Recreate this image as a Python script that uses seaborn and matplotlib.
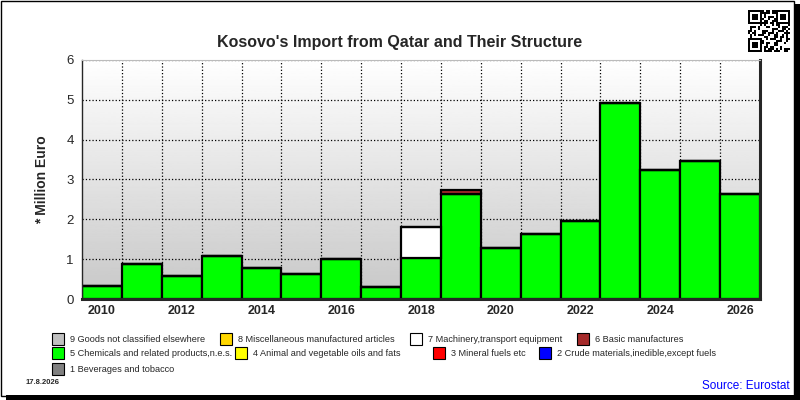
import matplotlib
matplotlib.use('Agg')

import numpy as np
import matplotlib.pyplot as plt
from matplotlib.patches import Rectangle
import seaborn as sns

# data (million euro)
years = list(range(2010, 2027))
chemicals = [0.33, 0.88, 0.58, 1.08, 0.78, 0.63, 1.0, 0.30, 1.03, 2.64,
             1.28, 1.63, 1.96, 4.92, 3.24, 3.47, 2.64]
machinery = [0, 0, 0, 0, 0, 0, 0, 0, 0.78, 0, 0, 0, 0, 0, 0, 0, 0]
basic = [0, 0, 0, 0, 0, 0, 0, 0, 0, 0.10, 0, 0, 0, 0, 0, 0, 0]

legend_labels = ["9 Goods not classified elsewhere", "8 Miscellaneous manufactured articles",
                 "7 Machinery,transport equipment", "6 Basic manufactures",
                 "5 Chemicals and related products,n.e.s.", "4 Animal and vegetable oils and fats",
                 "3 Mineral fuels etc", "2 Crude materials,inedible,except fuels",
                 "1 Beverages and tobacco"]
legend_colors = ["#c0c0c0", "#ffd700", "#ffffff", "#a52a2a",
                 "#00ff00", "#ffff00", "#ff0000", "#0000ff", "#808080"]

sns.set_style("white")
plt.rcParams['font.family'] = ['Liberation Sans', 'DejaVu Sans']

fig = plt.figure(figsize=(8, 4), dpi=100)
ax = fig.add_axes([0.1025, 0.2525, 0.8475, 0.5975])

# gradient background
grad = np.linspace(1.0, 0.78, 256).reshape(-1, 1)
ax.imshow(grad, cmap='gray', vmin=0, vmax=1, extent=[-0.5, 16.5, 0, 6],
          aspect='auto', zorder=0)

ylabels = [str(y) for y in years]
bottom2 = np.array(chemicals)
bottom3 = bottom2 + np.array(machinery)
sns.barplot(x=ylabels, y=chemicals, color="#00ff00", width=1, edgecolor='black',
            linewidth=1.6, saturation=1, ax=ax, zorder=3)
sns.barplot(x=ylabels, y=machinery, bottom=bottom2, color="#ffffff", width=1,
            edgecolor='black', linewidth=1.6, saturation=1, ax=ax, zorder=3)
sns.barplot(x=ylabels, y=basic, bottom=bottom3, color="#a52a2a", width=1,
            edgecolor='black', linewidth=1.6, saturation=1, ax=ax, zorder=3)

ax.set_xlim(-0.5, 16.5)
ax.set_ylim(0, 6)
ax.set_xticks(range(0, 17, 2))
ax.set_xticklabels(ylabels[::2], fontweight='bold', fontsize=9)
ax.set_xticks(np.arange(0.5, 16, 1), minor=True)
ax.set_yticks(range(0, 7))
ax.set_yticklabels([str(i) for i in range(7)], fontsize=9.5)
ax.grid(True, which='minor', axis='x', color='black', linestyle=':', linewidth=0.9, zorder=1)
ax.grid(True, which='major', axis='y', color='black', linestyle=':', linewidth=0.9, zorder=1)
ax.set_axisbelow(True)
ax.tick_params(axis='x', which='major', length=0, pad=4)
ax.tick_params(axis='x', which='minor', length=4, color='black', direction='out')
ax.tick_params(axis='y', length=3, color='black', pad=3)
ax.set_xlabel("")
ax.set_ylabel("* Million Euro", fontweight='bold', fontsize=10, labelpad=12)

ax.spines['left'].set_linewidth(1)
ax.spines['bottom'].set_linewidth(2.2)
ax.spines['right'].set_linewidth(2.2)
ax.spines['top'].set_color('#bbbbbb')
for s in ax.spines.values():
    s.set_zorder(5)

fig.text(0.5, 0.895, "Kosovo's Import from Qatar and Their Structure",
         ha='center', va='center', fontweight='bold', fontsize=11.5)

# legend laid out like the reference (flowing rows)
rows = [(339, [(52, 0), (220, 1), (410, 2), (577, 3)]),
        (353, [(52, 4), (235, 5), (433, 6), (539, 7)]),
        (369, [(52, 8)])]
for ypix, items in rows:
    for xpix, i in items:
        fig.patches.append(Rectangle((xpix / 800, 1 - (ypix + 6) / 400), 12 / 800, 12 / 400,
                                     transform=fig.transFigure, facecolor=legend_colors[i],
                                     edgecolor='black', linewidth=0.8))
        fig.text((xpix + 18) / 800, 1 - ypix / 400, legend_labels[i], fontsize=6.6,
                 va='center', ha='left')

fig.text(26 / 800, 1 - 383 / 400, "17.8.2026", fontsize=5.5, fontweight='bold', va='center')
fig.text(790 / 800, 1 - 386 / 400, "Source: Eurostat", fontsize=8.5, color='#0000ff',
         ha='right', va='center')

# qr-like mark
bits = np.unpackbits(np.frombuffer(b"Kosovo import from Qatar structure chart ref 2026 eurostat data", dtype=np.uint8))
qr = 1.0 - bits[:441].reshape(21, 21)
for (r, c) in [(0, 0), (0, 14), (14, 0)]:
    qr[r:r + 7, c:c + 7] = 0
    qr[r + 1:r + 6, c + 1:c + 6] = 1
    qr[r + 2:r + 5, c + 2:c + 5] = 0
qax = fig.add_axes([748 / 800, 1 - 52 / 400, 42 / 800, 42 / 400])
qax.imshow(qr, cmap='gray', vmin=0, vmax=1, interpolation='nearest')
qax.axis('off')

# frame with shadow
fig.patches.append(Rectangle((0.001, 0.01), 0.991, 0.988, transform=fig.transFigure,
                             fill=False, edgecolor='black', linewidth=1))
fig.patches.append(Rectangle((0.992, 0.0), 0.008, 0.99, transform=fig.transFigure,
                             facecolor='black', edgecolor='none'))
fig.patches.append(Rectangle((0.008, 0.0), 0.992, 0.012, transform=fig.transFigure,
                             facecolor='black', edgecolor='none'))

fig.savefig("out.png", dpi=100)
